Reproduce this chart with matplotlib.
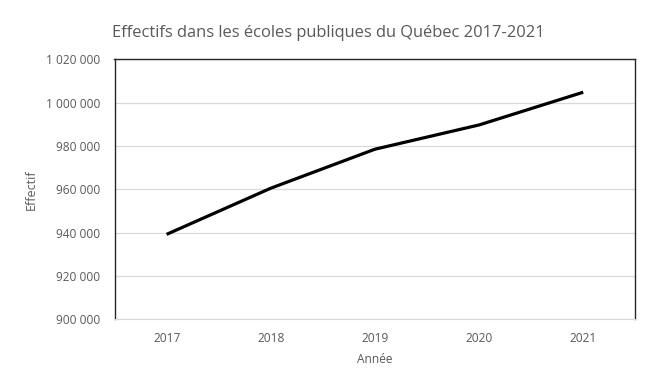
import matplotlib
matplotlib.use("Agg")
import matplotlib.pyplot as plt
from matplotlib.ticker import FuncFormatter

# data
annees = ["2017", "2018", "2019", "2020", "2021"]
effectifs = [939200, 960500, 978500, 989700, 1004800]
y_ticks = [900000, 920000, 940000, 960000, 980000, 1000000, 1020000]

plt.rcParams["font.family"] = ["Open Sans", "DejaVu Sans"]
TXT = "#595959"

fig = plt.figure(figsize=(6.61, 3.78), dpi=100)
W, H = 661, 378
ax = fig.add_axes([114.5 / W, 1 - 319.3 / H, (635.3 - 114.5) / W, (319.3 - 59.3) / H])

x = range(len(annees))
ax.plot(x, effectifs, color="black", lw=2.3, solid_capstyle="butt", zorder=3)

ax.set_xlim(-0.5, len(annees) - 0.5)
ax.set_ylim(y_ticks[0], y_ticks[-1])
ax.set_yticks(y_ticks)
ax.yaxis.set_major_formatter(FuncFormatter(lambda v, p: f"{int(v):,}".replace(",", " ")))
ax.set_xticks(list(x))
ax.set_xticklabels(annees)
ax.grid(True, axis="y", color="#d9d9d9", lw=0.9)
ax.set_axisbelow(True)
ax.tick_params(length=0, labelsize=8.6, colors=TXT, pad=10)
ax.tick_params(axis="x", pad=9)

for side in ("left", "top", "right"):
    ax.spines[side].set_color("#262626")
    ax.spines[side].set_linewidth(1.0)
ax.spines["bottom"].set_color("#d9d9d9")

ax.set_xlabel("Année", fontsize=8.6, color=TXT, labelpad=6)
ax.set_ylabel("Effectif", fontsize=9, color=TXT, labelpad=6)
fig.text(328 / W, 1 - 33 / H, "Effectifs dans les écoles publiques du Québec 2017-2021",
         ha="center", va="center", fontsize=11.9, color=TXT)

fig.savefig("out.png", dpi=100)
